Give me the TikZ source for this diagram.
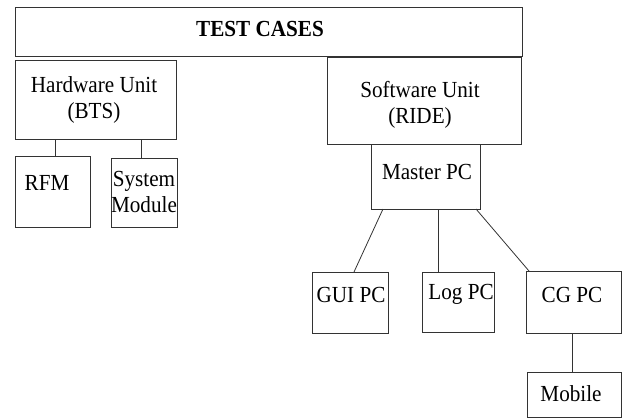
\documentclass[tikz,border=0pt]{standalone}
\usepackage{fontspec}
\setmainfont{Liberation Serif}[FakeStretch=0.92]
\begin{document}
\begin{tikzpicture}[x=1pt,y=-1pt,
  box/.style={draw=black!80, line width=0.9pt, anchor=north west, inner sep=0pt, outer sep=0pt},
  link/.style={draw=black!80, line width=0.8pt},
  lbl/.style={anchor=base, inner sep=0pt, font=\fontsize{23}{26}\selectfont}]
\useasboundingbox (0,0) rectangle (625,418);

% boxes
\node[box, minimum width=507pt, minimum height=49pt] (tc)  at (15,7) {};
\node[box, minimum width=161pt, minimum height=79pt] (hw)  at (15,60) {};
\node[box, minimum width=194pt, minimum height=87pt] (sw)  at (327,57) {};
\node[box, minimum width=75pt,  minimum height=71pt] (rfm) at (15,156) {};
\node[box, minimum width=66pt,  minimum height=69pt] (sys) at (111,158) {};
\node[box, minimum width=109pt, minimum height=65pt] (mpc) at (371,144) {};
\node[box, minimum width=76pt,  minimum height=61pt] (gui) at (312,272) {};
\node[box, minimum width=72pt,  minimum height=60pt] (log) at (422,272) {};
\node[box, minimum width=95pt,  minimum height=62pt] (cg)  at (526,271) {};
\node[box, minimum width=94pt,  minimum height=45pt] (mob) at (527,372) {};

% connectors
\draw[link] (hw.south -| 55,0)  -- (rfm.north -| 55,0);
\draw[link] (hw.south -| 141,0) -- (sys.north -| 141,0);
\draw[link] (mpc.south -| 383,0) -- (gui.north -| 354,0);
\draw[link] (mpc.south -| 438,0) -- (log.north -| 438,0);
\draw[link] (mpc.south -| 476,0) -- (cg.north -| 529,0);
\draw[link] (cg.south -| 572,0)  -- (mob.north -| 572,0);

% labels
\node[lbl] (tcT)  at (260,36)  {\textbf{TEST CASES}};
\node[lbl] (hwT1) at (94,92)   {Hardware Unit};
\node[lbl] (hwT2) at (94,118)  {(BTS)};
\node[lbl] (swT1) at (420,97)  {Software Unit};
\node[lbl] (swT2) at (420,123) {(RIDE)};
\node[lbl] (rfmT) at (47,190)  {RFM};
\node[lbl] (sysT1) at (144,186) {System};
\node[lbl] (sysT2) at (144,212) {Module};
\node[lbl] (mpcT) at (427,179) {Master PC};
\node[lbl] (guiT) at (351,302) {GUI PC};
\node[lbl] (logT) at (461,299) {Log PC};
\node[lbl] (cgT)  at (572,302) {CG PC};
\node[lbl] (mobT) at (571,401) {Mobile};
\end{tikzpicture}
\end{document}
